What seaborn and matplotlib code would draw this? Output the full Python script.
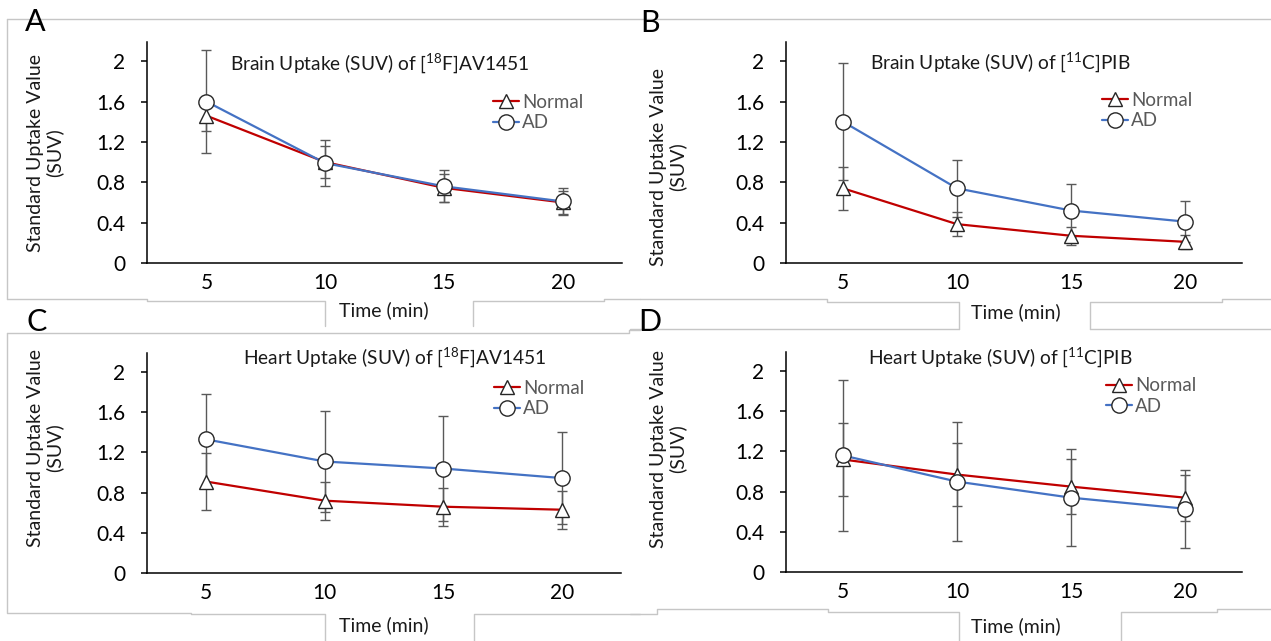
import matplotlib
matplotlib.use("Agg")
import matplotlib.pyplot as plt
from matplotlib.lines import Line2D
import seaborn as sns

# ---------------- data ----------------
times = [5, 10, 15, 20]

a_normal = [1.46, 1.00, 0.745, 0.60]
a_normal_sd = [0.15, 0.16, 0.14, 0.11]
a_ad = [1.60, 0.99, 0.76, 0.61]
a_ad_sd = [0.51, 0.23, 0.16, 0.13]

b_normal = [0.74, 0.385, 0.27, 0.21]
b_normal_sd = [0.21, 0.12, 0.09, 0.07]
b_ad = [1.40, 0.74, 0.52, 0.41]
b_ad_sd = [0.58, 0.28, 0.26, 0.20]

c_normal = [0.91, 0.72, 0.66, 0.63]
c_normal_sd = [0.28, 0.19, 0.19, 0.19]
c_ad = [1.33, 1.11, 1.04, 0.945]
c_ad_sd = [0.45, 0.50, 0.52, 0.455]

d_normal = [1.12, 0.97, 0.85, 0.74]
d_normal_sd = [0.36, 0.31, 0.27, 0.23]
d_ad = [1.16, 0.90, 0.74, 0.63]
d_ad_sd = [0.75, 0.59, 0.48, 0.39]

titles = ["Brain Uptake (SUV) of [$^{18}$F]AV1451",
          "Brain Uptake (SUV) of [$^{11}$C]PIB",
          "Heart Uptake (SUV) of [$^{18}$F]AV1451",
          "Heart Uptake (SUV) of [$^{11}$C]PIB"]
panel_letters = ["A", "B", "C", "D"]
series_labels = ["Normal", "AD"]
yticks = [0, 0.4, 0.8, 1.2, 1.6, 2.0]
ytick_labels = ["0", "0.4", "0.8", "1.2", "1.6", "2"]
ylabel = "Standard Uptake Value\n(SUV)"
xlabel = "Time (min)"

# ---------------- style ----------------
sns.set_theme(style="white")
plt.rcParams["font.family"] = ["Lato", "DejaVu Sans"]
plt.rcParams["mathtext.fontset"] = "custom"
plt.rcParams["mathtext.rm"] = "Lato"
plt.rcParams["mathtext.it"] = "Lato:italic"
plt.rcParams["mathtext.bf"] = "Lato:bold"

RED = "#C00000"
BLUE = "#4472C4"
ERR = "#595959"
BORDER = "#c6c6c6"

W, H = 1271, 641
fig = plt.figure(figsize=(W / 100, H / 100), dpi=100)
fig.patch.set_facecolor("white")


def px_rect(left, top, right, bottom):
    return [left / W, 1 - bottom / H, (right - left) / W, (bottom - top) / H]


# per-panel layout: axes rect, title pos, legend anchor, ylabel pos, xlabel pos, letter pos
layout = [
    dict(rect=px_rect(147, 42, 622, 263), title=(0.49, 0.905), leg=(0.728, 0.681),
         ylab=(-0.215, 0.50), xlab=(0.499, -0.213), letter=(35, 22)),
    dict(rect=px_rect(786, 42, 1242, 263), title=(0.469, 0.91), leg=(0.693, 0.69),
         ylab=(-0.259, 0.434), xlab=(0.504, -0.222), letter=(650, 23)),
    dict(rect=px_rect(147, 353, 621, 573), title=(0.523, 0.982), leg=(0.732, 0.793),
         ylab=(-0.215, 0.568), xlab=(0.499, -0.236), letter=(37, 322)),
    dict(rect=px_rect(786, 352, 1242, 572), title=(0.469, 0.977), leg=(0.702, 0.80),
         ylab=(-0.259, 0.559), xlab=(0.504, -0.245), letter=(650, 322)),
]

panels = [
    (a_normal, a_normal_sd, a_ad, a_ad_sd),
    (b_normal, b_normal_sd, b_ad, b_ad_sd),
    (c_normal, c_normal_sd, c_ad, c_ad_sd),
    (d_normal, d_normal_sd, d_ad, d_ad_sd),
]

# ---------------- grey chart-area borders (decoration) ----------------
border_segments = [
    [(7, 19), (1271, 19)],
    [(7, 19), (7, 299)],
    [(7, 299), (147, 299), (147, 301), (325, 301), (325, 326)],
    [(473, 326), (473, 301), (604, 301), (604, 299), (640, 299)],
    [(640, 299), (827, 299), (827, 302), (959, 302), (959, 329)],
    [(1090, 329), (1090, 302), (1222, 302), (1222, 299), (1271, 299)],
    [(7, 333), (629, 333), (629, 330), (640, 330)],
    [(630, 329), (959, 329)],
    [(1090, 329), (1271, 329)],
    [(7, 333), (7, 613), (191, 613), (191, 614), (325, 614), (325, 641)],
    [(474, 641), (474, 614), (640, 614)],
    [(630, 614), (657, 614), (657, 609), (828, 609), (828, 612), (959, 612), (959, 641)],
    [(1121, 641), (1121, 612), (1217, 612), (1217, 609), (1271, 609)],
]
for seg in border_segments:
    xs = [p[0] / W for p in seg]
    ys = [1 - p[1] / H for p in seg]
    fig.add_artist(Line2D(xs, ys, color=BORDER, lw=1.0, transform=fig.transFigure, zorder=0))

# ---------------- panels ----------------
for i, (lay, (nrm, nrm_sd, ad, ad_sd)) in enumerate(zip(layout, panels)):
    ax = fig.add_axes(lay["rect"])
    ax.set_facecolor("none")

    # error bars
    ax.errorbar(times, nrm, yerr=nrm_sd, fmt="none", ecolor=ERR, elinewidth=1.0,
                capsize=3.5, capthick=1.0, zorder=1)
    ax.errorbar(times, ad, yerr=ad_sd, fmt="none", ecolor=ERR, elinewidth=1.0,
                capsize=3.5, capthick=1.0, zorder=1)

    sns.lineplot(x=times, y=nrm, ax=ax, color=RED, lw=1.6, marker="^", markersize=10,
                 markerfacecolor="white", markeredgecolor="#262626", markeredgewidth=1.0,
                 label=series_labels[0], zorder=3)
    sns.lineplot(x=times, y=ad, ax=ax, color=BLUE, lw=1.6, marker="o", markersize=11,
                 markerfacecolor="white", markeredgecolor="#262626", markeredgewidth=1.0,
                 label=series_labels[1], zorder=4)

    ax.set_xlim(2.5, 22.5)
    ax.set_ylim(0, 2.19)
    ax.set_xticks(times)
    ax.set_xticklabels([str(t) for t in times])
    ax.set_xticks([2.5, 22.5], minor=True)
    ax.set_yticks(yticks)
    ax.set_yticklabels(ytick_labels)

    for s in ["top", "right"]:
        ax.spines[s].set_visible(False)
    for s in ["left", "bottom"]:
        ax.spines[s].set_color("black")
        ax.spines[s].set_linewidth(1.1)

    ax.tick_params(axis="x", which="major", length=0, pad=7, labelsize=15, labelcolor="black")
    ax.tick_params(axis="x", which="minor", length=3, width=1.1, color="black", direction="out")
    ax.tick_params(axis="y", which="major", length=4.5, width=1.1, color="black",
                   direction="out", pad=11, labelsize=15, labelcolor="black", left=True)

    ax.set_ylabel(ylabel, fontsize=14, color="#1a1a1a", linespacing=1.1)
    ax.yaxis.label.set_va("center")
    ax.yaxis.set_label_coords(*lay["ylab"])
    ax.set_xlabel(xlabel, fontsize=14, color="#1a1a1a")
    ax.xaxis.label.set_va("center")
    ax.xaxis.set_label_coords(*lay["xlab"])

    ax.text(lay["title"][0], lay["title"][1], titles[i], transform=ax.transAxes,
            ha="center", va="center", fontsize=13.8, color="#1a1a1a")

    leg = ax.legend(loc="center left", bbox_to_anchor=lay["leg"], frameon=False,
                    fontsize=13.5, handlelength=1.4, handletextpad=0.15,
                    labelspacing=0.2, borderpad=0, borderaxespad=0)
    for t in leg.get_texts():
        t.set_color("#595959")

    fig.text(lay["letter"][0] / W, 1 - lay["letter"][1] / H, panel_letters[i],
             ha="center", va="center", fontsize=22, color="black")

fig.savefig("out.png", dpi=100, facecolor="white")
